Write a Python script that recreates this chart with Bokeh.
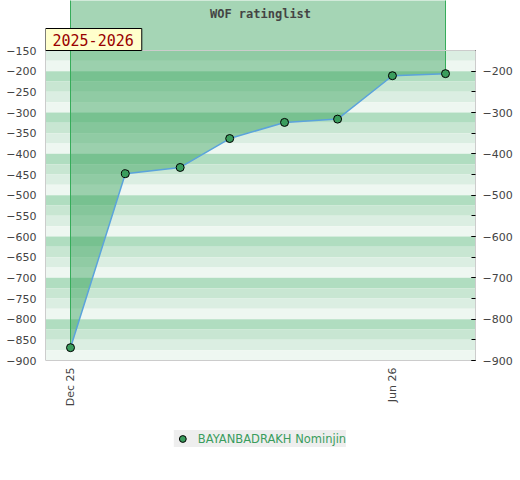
from datetime import datetime, timedelta
from bokeh.plotting import figure
from bokeh.models import (Range1d, LinearAxis, SingleIntervalTicker, FixedTicker,
                          DatetimeTickFormatter, Label, Span, Legend, LegendItem,
                          ColumnDataSource)
from bokeh.embed import file_html
from bokeh.resources import INLINE

# ---- data ----
title_text = "WOF ratinglist"
season_text = "2025-2026"
player = "BAYANBADRAKH Nominjin"
dates = [datetime(2025, 12, 1), datetime(2026, 1, 1), datetime(2026, 2, 1),
         datetime(2026, 3, 1), datetime(2026, 4, 1), datetime(2026, 5, 1),
         datetime(2026, 6, 1), datetime(2026, 7, 1)]
ratings = [-869, -448, -433, -363, -324, -316, -211, -206]
tick_dates = [datetime(2025, 12, 1), datetime(2026, 6, 1)]
axis_low, axis_high = -900, -150

# ---- geometry (pixels of the 520x480 canvas) ----
frame_w, frame_h = 430, 480
top_px, bottom_px = 50, 360          # pixel rows of axis_high / axis_low
units_per_px = (axis_high - axis_low) / float(bottom_px - top_px)
y_top = axis_high + top_px * units_per_px
y_bot = axis_low - (frame_h - bottom_px) * units_per_px
px_per_day = 375.0 / (dates[-1] - dates[0]).days
x_start = dates[0] - timedelta(days=25 / px_per_day)
x_end = dates[-1] + timedelta(days=30 / px_per_day)

p = figure(frame_width=frame_w, frame_height=frame_h, output_backend="svg",
           toolbar_location=None, x_axis_type="datetime",
           x_range=Range1d(x_start, x_end), y_range=Range1d(y_bot, y_top),
           min_border_left=45, min_border_right=45, min_border_top=0,
           min_border_bottom=0)
p.outline_line_color = None
p.background_fill_color = "white"
p.border_fill_color = "white"
p.xgrid.visible = False
p.ygrid.visible = False

# ---- stripes ----
stripe_colors = ["#b0ddc0", "#c8e6d2", "#dbeee2", "#eef7f1"]
tops, bottoms, cols = [], [], []
t = axis_high
while t > axis_low:
    tops.append(t)
    bottoms.append(t - 25)
    cols.append(stripe_colors[((-t) % 100) // 25])
    t -= 25
stripe_src = ColumnDataSource(dict(left=[x_start] * len(tops), right=[x_end] * len(tops),
                                   top=tops, bottom=bottoms, color=cols))
p.quad(left="left", right="right", top="top", bottom="bottom", fill_color="color",
       line_color=None, source=stripe_src)

# ---- area ----
p.varea(x=dates, y1=ratings, y2=0, fill_color="#289b4f", fill_alpha=0.42)
p.segment(x0=[dates[0], dates[-1]], y0=[ratings[0], ratings[-1]],
          x1=[dates[0], dates[-1]], y1=[0, 0], line_color="#36ac5a", line_width=1)

line_r = p.line(dates, ratings, line_color="#5ba3dc", line_width=1.5)
sc = p.scatter(dates, ratings, size=8, fill_color="#3a9d5d", line_color="black",
               line_width=1)

p.add_layout(Span(location=axis_high, dimension="width", line_color="#cccccc",
                  line_width=1))

# ---- axes ----
font = "DejaVu Sans"
xa = p.xaxis[0]
xa.fixed_location = axis_low
xa.ticker = FixedTicker(ticks=[d.timestamp() * 1000 for d in tick_dates])
xa.formatter = DatetimeTickFormatter(years="%b %y", months="%b %y", days="%b %y",
                                     hours="%b %y", minutes="%b %y", seconds="%b %y",
                                     milliseconds="%b %y", microseconds="%b %y",
                                     hourmin="%b %y", minsec="%b %y")
xa.major_label_orientation = 3.14159265 / 2
xa.major_tick_out = 0
xa.major_tick_in = 0
xa.minor_tick_out = 0
xa.minor_tick_in = 0
xa.axis_line_color = "#cccccc"
xa.major_label_standoff = 7
xa.major_label_text_font = font
xa.major_label_text_font_size = "11px"
xa.major_label_text_color = "#444444"

ya = p.yaxis[0]
ya.ticker = SingleIntervalTicker(interval=50, num_minor_ticks=0)
ya.bounds = (axis_low, axis_high)
ya.major_tick_out = 0
ya.major_tick_in = 0
ya.minor_tick_out = 0
ya.minor_tick_in = 0
ya.axis_line_color = "#cccccc"
ya.major_label_standoff = 9
ya.major_label_text_font = font
ya.major_label_text_font_size = "11px"
ya.major_label_text_color = "#444444"

ra = LinearAxis(ticker=SingleIntervalTicker(interval=100, num_minor_ticks=2),
                bounds=(axis_low, axis_high))
ra.major_tick_out = 0
ra.major_tick_in = 4
ra.minor_tick_out = 0
ra.minor_tick_in = 4
ra.major_tick_line_color = "black"
ra.minor_tick_line_color = "black"
ra.axis_line_color = "#cccccc"
ra.major_label_standoff = 7
ra.major_label_text_font = font
ra.major_label_text_font_size = "11px"
ra.major_label_text_color = "#444444"
p.add_layout(ra, "right")

# ---- texts ----
x_mid = x_start + (x_end - x_start) / 2
p.add_layout(Label(x=x_mid, y=y_top - 13 * units_per_px, text=title_text,
                   text_align="center", text_baseline="middle",
                   text_font="DejaVu Sans Mono", text_font_style="bold",
                   text_font_size="12px", text_color="#444444"))

p.add_layout(Label(x=x_start, y=axis_high, text=season_text,
                   text_align="left", text_baseline="bottom",
                   text_font="DejaVu Sans Mono", text_font_size="15px",
                   text_color="#990000", text_line_height=1.0,
                   background_fill_color="#ffffcc", border_line_color="black",
                   padding=dict(left=7, right=8, top=5, bottom=5)))

legend = Legend(items=[LegendItem(label=player, renderers=[sc])],
                orientation="horizontal", location="bottom_center",
                background_fill_color="#eeeeee", background_fill_alpha=1,
                border_line_color=None, label_text_color="#3a9d5d",
                label_text_font=font, label_text_font_size="11.5px",
                glyph_width=17, glyph_height=17, label_height=17,
                label_standoff=7, padding=3, margin=33)
p.add_layout(legend, "center")

open("out.html", "w").write(file_html(p, INLINE))
